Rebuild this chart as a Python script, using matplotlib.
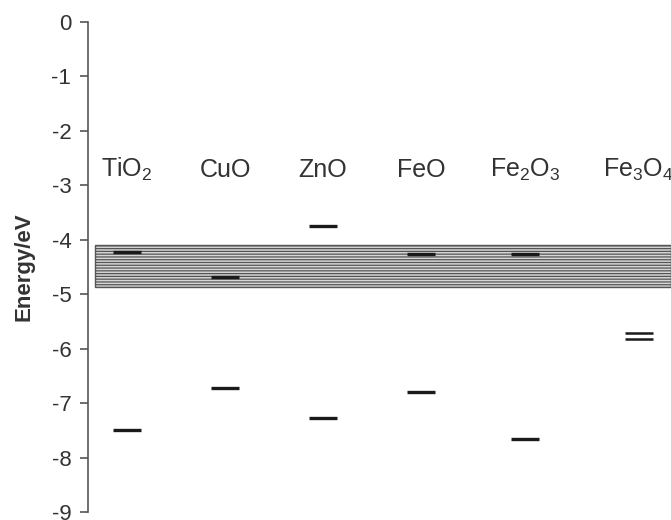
import matplotlib
matplotlib.use("Agg")
import matplotlib.pyplot as plt

plt.rcParams["font.family"] = ["Liberation Sans", "DejaVu Sans"]
plt.rcParams["mathtext.default"] = "regular"
plt.rcParams["axes.unicode_minus"] = False
plt.rcParams["hatch.color"] = "#8a8a8a"
plt.rcParams["hatch.linewidth"] = 0.9

# oxides and their band edge energies (eV)
OXIDES = ["TiO$_2$", "CuO", "ZnO", "FeO", "Fe$_2$O$_3$", "Fe$_3$O$_4$"]
CB_EDGE = [-4.22, -4.68, -3.74, -4.26, -4.26, -5.72]
VB_EDGE = [-7.50, -6.73, -7.27, -6.79, -7.65, -5.82]
X_POS = [0, 1, 2, 3, 4.06, 5.22]

# hatched band (reference range)
BAND_TOP, BAND_BOTTOM = -4.09, -4.86

fig = plt.figure(figsize=(6.71, 5.20), dpi=100)
ax = fig.add_axes([88 / 671, 1 - 512 / 520, 1 - 88 / 671, (512 - 22) / 520])

ax.set_xlim(-0.398, 5.55)
ax.set_ylim(-9, 0)

# band spans from just right of the axis to the edge
ax.axhspan(BAND_BOTTOM, BAND_TOP, xmin=(95 - 88) / (671 - 88), xmax=1,
           facecolor="#d6d6d6", edgecolor="#555555", linewidth=1.0,
           hatch="------", zorder=1)

hw = 0.143
for i, (x, cb, vb) in enumerate(zip(X_POS, CB_EDGE, VB_EDGE)):
    lw = 1.8 if i == len(X_POS) - 1 else 2.4
    ax.hlines([cb, vb], x - hw, x + hw, color="#1a1a1a", linewidth=lw, zorder=3)
    ax.text(x, -2.84, OXIDES[i], ha="center", va="baseline",
            fontsize=18, color="#333333")

for s in ["top", "right", "bottom"]:
    ax.spines[s].set_visible(False)
ax.spines["left"].set_color("#555555")
ax.spines["left"].set_linewidth(1.2)
ax.set_xticks([])
ax.set_yticks(range(0, -10, -1))
ax.tick_params(axis="y", direction="out", length=6, width=1.2, color="#555555",
               labelsize=16, labelcolor="#333333", pad=6)
ax.set_ylabel("Energy/eV", fontsize=16, fontweight="bold", color="#333333",
              labelpad=12)

fig.savefig("out.png", dpi=100)
